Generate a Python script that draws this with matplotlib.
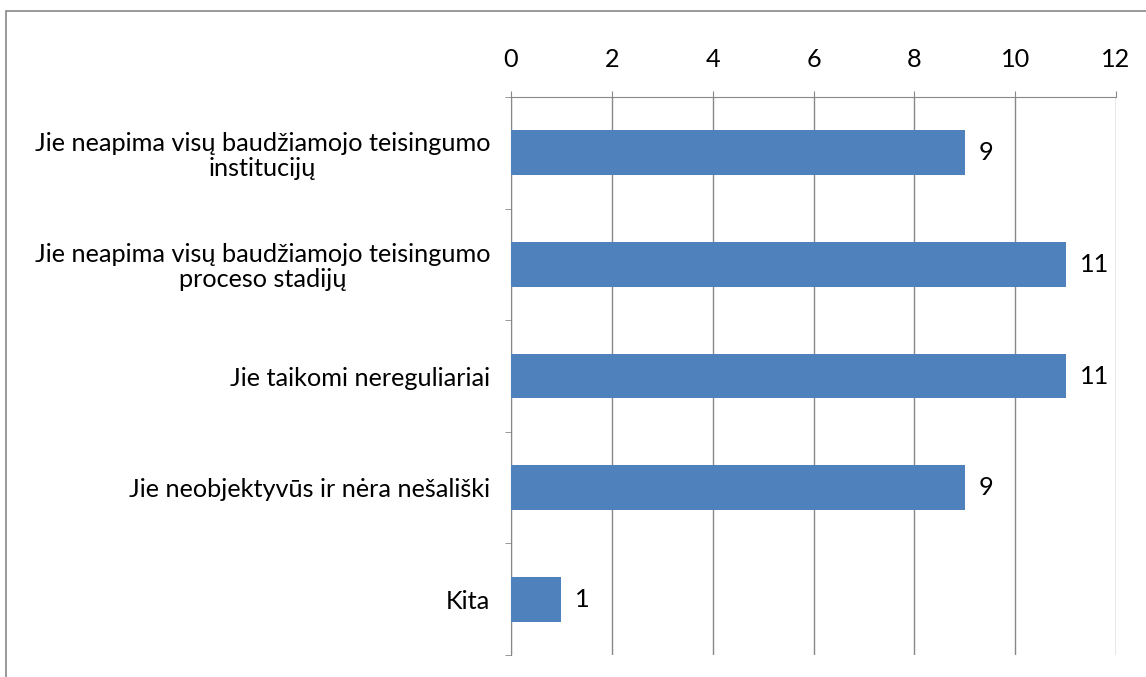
import matplotlib.pyplot as plt
from matplotlib.patches import Rectangle
import numpy as np

# categories top to bottom
categories = [
    "Jie neapima visų baudžiamojo teisingumo\ninstitucijų",
    "Jie neapima visų baudžiamojo teisingumo\nproceso stadijų",
    "Jie taikomi nereguliariai",
    "Jie neobjektyvūs ir nėra nešališki",
    "Kita",
]
values = [9, 11, 11, 9, 1]
x_ticks = [0, 2, 4, 6, 8, 10, 12]

plt.rcParams['font.family'] = ['Lato', 'DejaVu Sans']
fs = 18.2
fig = plt.figure(figsize=(11.46, 6.77), dpi=100)
ax = fig.add_axes([511 / 1146, 1 - 655 / 677, 605 / 1146, 558 / 677])

y = np.arange(len(categories))
ax.barh(y, values, height=0.4, color='#4F81BD', zorder=3)
for yi, v in zip(y, values):
    ax.annotate(str(v), (v, yi), xytext=(10, 0), textcoords='offset points',
                ha='left', va='center', fontsize=fs)

ax.set_xlim(0, 12)
ax.set_ylim(len(categories) - 0.5, -0.5)
ax.set_xticks(x_ticks)
ax.xaxis.tick_top()
ax.tick_params(axis='x', direction='out', length=4.5, color='#888888',
               labelsize=fs, pad=14)
ax.grid(axis='x', color='#888888', linewidth=1, zorder=0)

ax.set_yticks(y)
ax.set_yticklabels(categories, fontsize=fs)
for lbl in ax.get_yticklabels():
    lbl.set_multialignment('center')
    lbl.set_linespacing(1.1)
ax.tick_params(axis='y', which='major', length=0, pad=15)
ax.set_yticks(np.arange(-0.5, len(categories)), minor=True)
ax.tick_params(axis='y', which='minor', direction='out', length=4.5, color='#888888')

for s in ['right', 'bottom']:
    ax.spines[s].set_visible(False)
for s in ['top', 'left']:
    ax.spines[s].set_color('#888888')

fig.patches.append(Rectangle((6 / 1146, -0.1), 2, 1.1 - 11 / 677, fill=False,
                             edgecolor='#888888', linewidth=1.2,
                             transform=fig.transFigure))

plt.savefig('out.png', dpi=100)
